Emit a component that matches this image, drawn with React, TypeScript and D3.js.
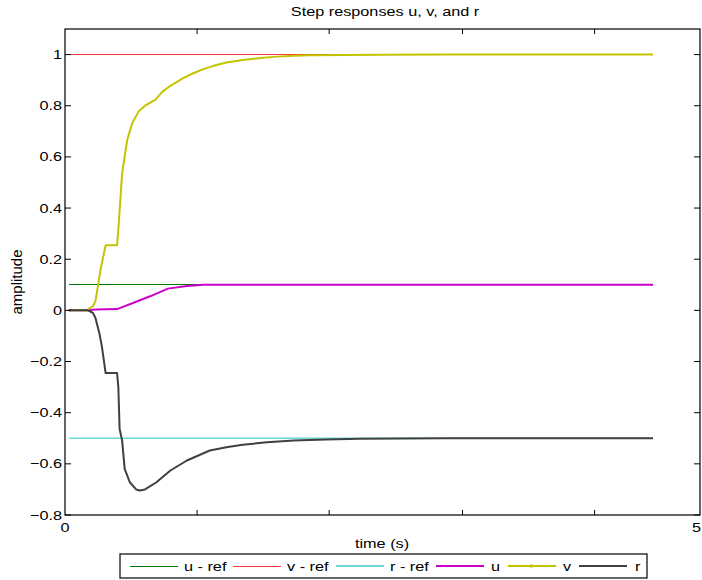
import React from "react";
import * as d3 from "d3";

// Time samples and responses (time in seconds)
const uTime = [0.03, 0.18, 0.24, 0.41, 0.54, 0.67, 0.81, 0.96, 1.09, 1.3, 2.0, 3.0, 4.63];
const uValues = [0, 0, 0.003, 0.005, 0.03, 0.055, 0.085, 0.095, 0.1, 0.1, 0.1, 0.1, 0.1];

const vTime = [0.03, 0.17, 0.22, 0.24, 0.28, 0.32, 0.41, 0.42, 0.45, 0.49, 0.53, 0.58, 0.63, 0.71, 0.77, 0.83, 0.93, 1.01, 1.09, 1.17, 1.27, 1.4, 1.54, 1.67, 1.8, 1.93, 2.5, 3.0, 4.63];
const vValues = [0, 0, 0.017, 0.036, 0.16, 0.255, 0.255, 0.316, 0.537, 0.667, 0.732, 0.778, 0.8, 0.823, 0.856, 0.878, 0.908, 0.927, 0.943, 0.956, 0.969, 0.979, 0.987, 0.992, 0.995, 0.997, 0.999, 1.0, 1.0];

const rTime = [0.03, 0.18, 0.22, 0.24, 0.27, 0.29, 0.32, 0.41, 0.42, 0.43, 0.45, 0.47, 0.51, 0.56, 0.59, 0.63, 0.72, 0.83, 0.96, 1.14, 1.27, 1.4, 1.59, 1.8, 2.06, 2.32, 3.0, 4.63];
const rValues = [0, 0, -0.01, -0.03, -0.088, -0.14, -0.245, -0.245, -0.3, -0.464, -0.51, -0.62, -0.672, -0.7, -0.704, -0.7, -0.672, -0.626, -0.587, -0.548, -0.535, -0.525, -0.516, -0.509, -0.505, -0.502, -0.5, -0.5];

// Reference levels
const refTime = [0.03, 4.63];
const uRef = 0.1;
const vRef = 1.0;
const rRef = -0.5;

const yTicks = [-0.8, -0.6, -0.4, -0.2, 0, 0.2, 0.4, 0.6, 0.8, 1];
const xLabelTicks = [0, 5];
const xMinorTicks = [1.04, 2.08, 3.13, 4.17];

const legendLabels = ["u - ref", "v - ref", "r - ref", "u", "v", "r"];

const W = 702;
const H = 580;
const plot = { left: 65, right: 700, top: 29, bottom: 515 };
const FONT = "'Liberation Sans', Arial, Helvetica, sans-serif";
const FS = 13;
const STRETCH = 1.25;

const C = {
  uRef: "#007a00",
  vRef: "#ff3a3a",
  rRef: "#6fd6d6",
  u: "#cc00cc",
  v: "#c4c400",
  r: "#404040",
};

type TProps = {
  x: number;
  y: number;
  anchor?: "start" | "middle" | "end";
  children: React.ReactNode;
};

// Horizontal text with the wide glyph proportions used across the figure
function T({ x, y, anchor = "start", children }: TProps) {
  return (
    <text
      transform={`translate(${x},${y}) scale(${STRETCH},1)`}
      fontSize={FS}
      textAnchor={anchor}
      fill="#000"
    >
      {children}
    </text>
  );
}

export default function App() {
  const x = d3.scaleLinear().domain([0, 5]).range([plot.left, plot.right]);
  const y = d3.scaleLinear().domain([-0.8, 1.1]).range([plot.bottom, plot.top]);
  const line = d3
    .line<[number, number]>()
    .x((d) => x(d[0]))
    .y((d) => y(d[1]));

  const zip = (t: number[], v: number[]) => t.map((ti, i) => [ti, v[i]] as [number, number]);
  const flat = (level: number) => refTime.map((t) => [t, level] as [number, number]);

  const tickLen = 6;

  // legend layout
  const leg = { x0: 120, x1: 647, y0: 554, y1: 578 };
  const legItems = [
    { label: legendLabels[0], color: C.uRef, w: 1, lx: 130, tx: 184 },
    { label: legendLabels[1], color: C.vRef, w: 1, lx: 233, tx: 287 },
    { label: legendLabels[2], color: C.rRef, w: 1.3, lx: 336, tx: 390 },
    { label: legendLabels[3], color: C.u, w: 2, lx: 436, tx: 491 },
    { label: legendLabels[4], color: C.v, w: 2, lx: 508, tx: 563, marker: true },
    { label: legendLabels[5], color: C.r, w: 2, lx: 579, tx: 635 },
  ];
  const legY = (leg.y0 + leg.y1) / 2;

  return (
    <svg
      width={W}
      height={H}
      style={{ position: "absolute", left: 0, top: 0, background: "#fff" }}
      fontFamily={FONT}
    >
      <rect x={0} y={0} width={W} height={H} fill="#fff" />
      <T x={385} y={16} anchor="middle">
        Step responses u, v, and r
      </T>

      {/* reference levels */}
      <path d={line(flat(vRef)) || ""} fill="none" stroke={C.vRef} strokeWidth={1.2} shapeRendering="crispEdges" />
      <path d={line(flat(uRef)) || ""} fill="none" stroke={C.uRef} strokeWidth={1.2} shapeRendering="crispEdges" />
      <path d={line(flat(rRef)) || ""} fill="none" stroke={C.rRef} strokeWidth={1.5} />

      {/* responses */}
      <path d={line(zip(uTime, uValues)) || ""} fill="none" stroke={C.u} strokeWidth={2} strokeLinejoin="round" />
      <path d={line(zip(vTime, vValues)) || ""} fill="none" stroke={C.v} strokeWidth={2} strokeLinejoin="round" />
      <path d={line(zip(rTime, rValues)) || ""} fill="none" stroke={C.r} strokeWidth={2} strokeLinejoin="round" />

      {/* axes box */}
      <rect
        x={plot.left}
        y={plot.top}
        width={plot.right - plot.left}
        height={plot.bottom - plot.top}
        fill="none"
        stroke="#000"
        strokeWidth={1.2}
      />

      {yTicks.map((t) => (
        <g key={"y" + t}>
          <line x1={plot.left} x2={plot.left + tickLen} y1={y(t)} y2={y(t)} stroke="#000" />
          <line x1={plot.right} x2={plot.right - tickLen} y1={y(t)} y2={y(t)} stroke="#000" />
          <T x={plot.left - 3} y={y(t) + 4.5} anchor="end">
            {d3.format("")(t)}
          </T>
        </g>
      ))}

      {xMinorTicks.map((t) => (
        <g key={"x" + t}>
          <line x1={x(t)} x2={x(t)} y1={plot.bottom} y2={plot.bottom - 5} stroke="#000" />
          <line x1={x(t)} x2={x(t)} y1={plot.top} y2={plot.top + 5} stroke="#000" />
        </g>
      ))}
      {xLabelTicks.map((t, i) => (
        <T
          key={"xl" + t}
          x={i === xLabelTicks.length - 1 ? W - 1 : x(t)}
          y={plot.bottom + 17}
          anchor={i === xLabelTicks.length - 1 ? "end" : "middle"}
        >
          {String(t)}
        </T>
      ))}

      <T x={382} y={548} anchor="middle">
        time (s)
      </T>
      <text
        transform={`translate(22, ${(plot.top + plot.bottom) / 2 + 10}) rotate(-90)`}
        fontSize={15}
        textAnchor="middle"
        fill="#000"
      >
        amplitude
      </text>

      {/* legend */}
      <rect x={leg.x0} y={leg.y0} width={leg.x1 - leg.x0} height={leg.y1 - leg.y0} fill="#fff" stroke="#000" strokeWidth={1.2} />
      {legItems.map((it) => (
        <g key={it.label}>
          <line
            x1={it.lx}
            x2={it.lx + 48}
            y1={legY}
            y2={legY}
            stroke={it.color}
            strokeWidth={it.w}
            shapeRendering={it.w < 1.5 ? "crispEdges" : undefined}
          />
          {it.marker && <rect x={it.lx + 22} y={legY - 1.5} width={3} height={3} fill={it.color} />}
          <T x={it.tx} y={legY + 5}>
            {it.label}
          </T>
        </g>
      ))}
    </svg>
  );
}
